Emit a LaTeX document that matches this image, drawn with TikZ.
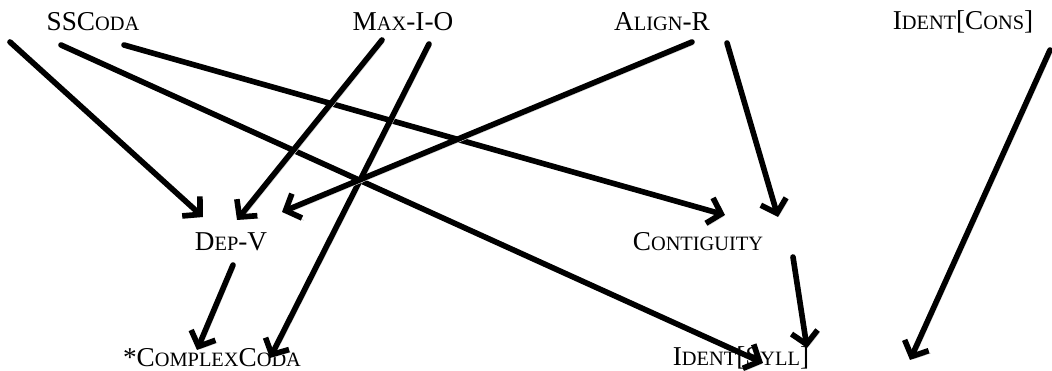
\documentclass[tikz,border=0pt]{standalone}
\usepackage{fontspec}
\setmainfont{Liberation Serif}
\usetikzlibrary{arrows.meta}
\usetikzlibrary{calc}
% small capitals made by hand
\newcommand{\lowcap}[1]{{\fontsize{11.6}{13}\selectfont #1}}

\begin{document}
\begin{tikzpicture}[
  x=0.02cm, y=-0.02cm,
  every node/.style={font=\fontsize{15.5}{17}\selectfont, inner sep=0pt},
  > = {Straight Barb[length=7pt, width=15pt]},
  con/.style = {->, line width=3.2pt, line cap=round, line join=round,
    preaction={draw=black!15, transform canvas={shift={(1.2pt,-1.4pt)}}}}
  ]
	\useasboundingbox (0,0) rectangle (1052,371);

	\coordinate (@ssc) at (93,22);
	\coordinate (@max) at (403,22);
	\coordinate (@ali) at (662,22);
	\coordinate (@idc) at (963,22);
	\coordinate (@dep) at (231,242);
	\coordinate (@con) at (698,242);
	\coordinate (@cpx) at (212,358);
	\coordinate (@ids) at (741,358);

	\node (ssc) at (@ssc) {SSC\lowcap{ODA}};
	\node (max) at (@max) {M\lowcap{AX}-I-O};
	\node (ali) at (@ali) {A\lowcap{LIGN}-R};
	\node (idc) at (@idc) {I\lowcap{DENT}[C\lowcap{ONS}]};
	\node (dep) at (@dep) {D\lowcap{EP}-V};
	\node (con) at (@con) {C\lowcap{ONTIGUITY}};
	\node (cpx) at (@cpx) {*C\lowcap{OMPLEX}C\lowcap{ODA}};
	\node (ids) at (@ids) {I\lowcap{DENT}[S\lowcap{YLL}]};

	% loose ends at the edges
	\coordinate (in1) at (10,42);
	\coordinate (in2) at (1050,50);
	\coordinate (out2) at (910,360);

	\draw[con] (in1) -- ($(dep)+(-28,-25)$);
	\draw[con] ($(ssc)+(-32,23)$) -- ($(ids)+(22,5)$);
	\draw[con] ($(ssc)+(31,23)$) -- ($(con)+(27,-27)$);
	\draw[con] ($(max)+(-21,18)$) -- ($(dep)+(6,-22)$);
	\draw[con] ($(max)+(26,22)$) -- ($(cpx)+(58,0)$);
	\draw[con] ($(ali)+(30,20)$) -- ($(dep)+(51,-30)$);
	\draw[con] ($(ali)+(65,21)$) -- ($(con)+(80,-25)$);
	\draw[con] (in2) -- (out2);
	\draw[con] ($(dep)+(2,23)$) -- ($(cpx)+(-15,-8)$);
	\draw[con] ($(con)+(95,15)$) -- ($(ids)+(66,-10)$);

\end{tikzpicture}
\end{document}
